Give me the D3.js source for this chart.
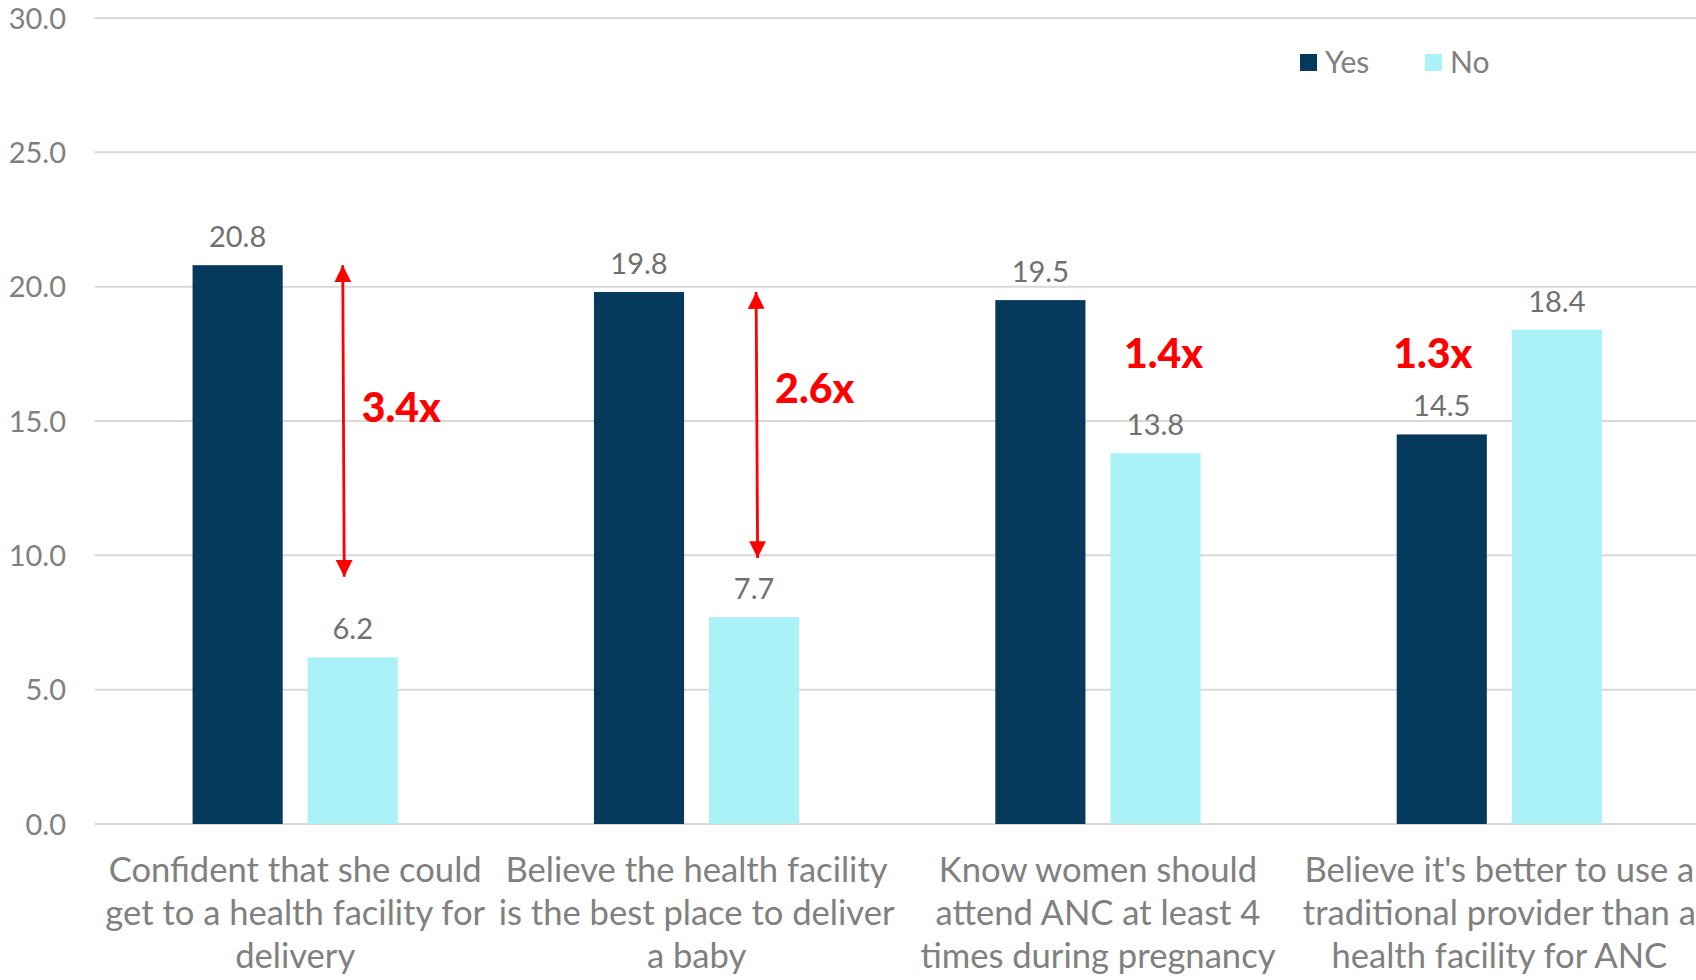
<!DOCTYPE html>
<html>
<head>
<meta charset="utf-8">
<script src="https://cdn.jsdelivr.net/npm/d3@7"></script>
<style>
  html, body { margin: 0; padding: 0; background: #ffffff; overflow: hidden; }
  svg { display: block; }
</style>
</head>
<body>
<svg id="chart" width="1696" height="980"></svg>
<script>
// Category labels, already broken into the lines they are drawn on
const categories = [
  ["Confident that she could", "get to a health facility for", "delivery"],
  ["Believe the health facility", "is the best place to deliver", "a baby"],
  ["Know women should", "attend ANC at least 4", "times during pregnancy"],
  ["Believe it's better to use a", "traditional provider than a", "health facility for ANC"]
];
const seriesNames = ["Yes", "No"];
const yesValues = [20.8, 19.8, 19.5, 14.5];
const noValues = [6.2, 7.7, 13.8, 18.4];
const yTicks = [0, 5, 10, 15, 20, 25, 30];

// Ratio callouts: text, and the value range spanned by a double arrow (if any)
const ratioLabels = ["3.4x", "2.6x", "1.4x", "1.3x"];
const ratioLabelLevel = [15.5, 16.2, 17.5, 17.5];
const arrowFrom = [20.8, 19.8, null, null];
const arrowTo = [9.2, 9.9, null, null];

const colors = { Yes: "#053a5c", No: "#aaf2f8" };
const textGray = "#808080";
const fontFamily = "Lato, 'Open Sans', sans-serif";

const svg = d3.select("#chart");
const plot = { left: 94.5, right: 1700, top: 18, bottom: 824 };

const keys = categories.map((c, i) => i);
const x = d3.scaleBand().domain(keys).range([plot.left, plot.right]).paddingInner(0).paddingOuter(0);
const xs = d3.scaleBand().domain(seriesNames).range([0, x.bandwidth()])
  .paddingInner(0.217).paddingOuter(0.852);
const y = d3.scaleLinear().domain([0, 30]).range([plot.bottom, plot.top]);

// Horizontal gridlines
svg.append("g")
  .selectAll("line")
  .data(yTicks)
  .join("line")
  .attr("x1", plot.left).attr("x2", plot.right)
  .attr("y1", d => y(d)).attr("y2", d => y(d))
  .attr("stroke", "#d9d9d9").attr("stroke-width", 2);

// Y axis labels
const yAxis = d3.axisLeft(y).tickValues(yTicks).tickFormat(d3.format(".1f")).tickSize(0).tickPadding(0);
const yAxisG = svg.append("g").attr("transform", "translate(66,0)").call(yAxis);
yAxisG.select(".domain").remove();
yAxisG.selectAll("text")
  .attr("fill", textGray)
  .style("font-family", fontFamily)
  .style("font-size", "29px")
  .attr("dy", "0.35em");

// Bars
const rows = keys.map(i => ({ i, Yes: yesValues[i], No: noValues[i] }));
const groups = svg.append("g").selectAll("g")
  .data(rows)
  .join("g")
  .attr("transform", d => `translate(${x(d.i)},0)`);

groups.selectAll("rect")
  .data(d => seriesNames.map(s => ({ s, v: d[s] })))
  .join("rect")
  .attr("x", d => xs(d.s))
  .attr("width", xs.bandwidth())
  .attr("y", d => y(d.v))
  .attr("height", d => y(0) - y(d.v))
  .attr("fill", d => colors[d.s]);

// Value labels
groups.selectAll("text.value")
  .data(d => seriesNames.map(s => ({ s, v: d[s] })))
  .join("text")
  .attr("class", "value")
  .attr("x", d => xs(d.s) + xs.bandwidth() / 2)
  .attr("y", d => y(d.v) - 18)
  .attr("text-anchor", "middle")
  .attr("fill", "#707070")
  .style("font-family", fontFamily)
  .style("font-size", "29px")
  .text(d => d3.format(".1f")(d.v));

// Category labels
const catG = svg.append("g").selectAll("text")
  .data(categories)
  .join("text")
  .attr("text-anchor", "middle")
  .attr("fill", textGray)
  .style("font-family", fontFamily)
  .style("font-size", "34.6px");
catG.selectAll("tspan")
  .data((d, i) => d.map(line => ({ line, i })))
  .join("tspan")
  .attr("x", d => x(d.i) + x.bandwidth() / 2)
  .attr("y", (d, j) => 882 + j * 43)
  .text(d => d.line);

// Ratio arrows and callouts
const red = "#ff0000";
const defs = svg.append("defs");
["start", "end"].forEach(k => {
  defs.append("marker")
    .attr("id", "arrow-" + k)
    .attr("viewBox", "0 0 10 10")
    .attr("refX", 10).attr("refY", 5)
    .attr("markerWidth", 6).attr("markerHeight", 6)
    .attr("markerUnits", "strokeWidth")
    .attr("orient", k === "start" ? "auto-start-reverse" : "auto")
    .append("path")
    .attr("d", "M0,0 L10,5 L0,10 Z")
    .attr("fill", red);
});

// Horizontal nudge of each arrow relative to the centre of its "No" bar
const arrowShift = [-10, 2, 0, 0];
const arrowX = i => x(i) + xs("No") + xs.bandwidth() / 2 + arrowShift[i];

svg.append("g").selectAll("line")
  .data(keys.filter(i => arrowFrom[i] !== null))
  .join("line")
  .attr("x1", i => arrowX(i)).attr("x2", i => arrowX(i) + 1.5)
  .attr("y1", i => y(arrowFrom[i])).attr("y2", i => y(arrowTo[i]))
  .attr("stroke", red).attr("stroke-width", 2.8)
  .attr("marker-start", "url(#arrow-start)")
  .attr("marker-end", "url(#arrow-end)");

svg.append("g").selectAll("text")
  .data(keys)
  .join("text")
  .attr("x", i => arrowFrom[i] !== null ? arrowX(i) + 19
    : (i === 2 ? x(i) + xs("No") + xs.bandwidth() / 2 + 8 : x(i) + xs("Yes") + xs.bandwidth() / 2 - 9))
  .attr("y", i => y(ratioLabelLevel[i]))
  .attr("dy", "0.35em")
  .attr("text-anchor", i => arrowFrom[i] !== null ? "start" : "middle")
  .attr("fill", red)
  .style("font-family", fontFamily)
  .style("font-weight", 900)
  .style("font-size", "41px")
  .text(i => ratioLabels[i]);

// Legend
const legend = svg.append("g").attr("transform", "translate(1300,54)");
const legendItems = legend.selectAll("g")
  .data(seriesNames)
  .join("g")
  .attr("transform", (d, i) => `translate(${i * 125},0)`);
legendItems.append("rect")
  .attr("width", 17).attr("height", 17)
  .attr("fill", d => colors[d]);
legendItems.append("text")
  .attr("x", 25).attr("y", 18.5)
  .attr("fill", textGray)
  .style("font-family", fontFamily)
  .style("font-size", "30px")
  .text(d => d);
</script>
</body>
</html>
